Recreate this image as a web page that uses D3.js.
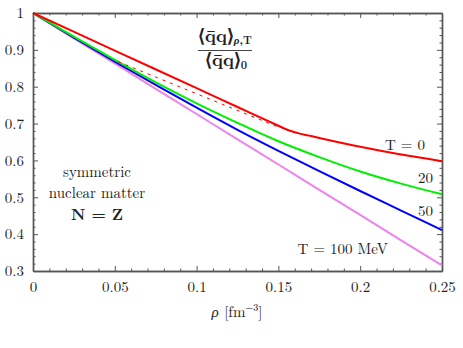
<!DOCTYPE html>
<html><head><meta charset="utf-8">
<script src="https://cdn.jsdelivr.net/npm/d3@7"></script>
<style>
html,body{margin:0;padding:0;background:#fff;}
svg{display:block;}
</style></head>
<body>
<svg id="chart" width="463" height="348"></svg>
<script>
// ---- data ----
const xTicks = [0, 0.05, 0.1, 0.15, 0.2, 0.25];
const xTickLabels = ["0", "0.05", "0.1", "0.15", "0.2", "0.25"];
const yTicks = [0.3, 0.4, 0.5, 0.6, 0.7, 0.8, 0.9, 1];
const yTickLabels = ["0.3", "0.4", "0.5", "0.6", "0.7", "0.8", "0.9", "1"];

const rho = [0, 0.025, 0.05, 0.075, 0.1, 0.125, 0.15, 0.175, 0.2, 0.225, 0.25];
const rhoT0 = [0, 0.05, 0.1, 0.125, 0.15, 0.155, 0.158, 0.162, 0.168, 0.175, 0.2, 0.225, 0.25];
const condT0 = [1, 0.898, 0.796, 0.745, 0.694, 0.684, 0.679, 0.674, 0.668, 0.661, 0.637, 0.616, 0.598];
const condT20 = [1, 0.936, 0.873, 0.812, 0.755, 0.702, 0.652, 0.609, 0.570, 0.537, 0.508];
const condT50 = [1, 0.933, 0.868, 0.805, 0.743, 0.683, 0.626, 0.571, 0.517, 0.464, 0.411];
const condT100 = [1, 0.931, 0.863, 0.794, 0.726, 0.657, 0.589, 0.520, 0.452, 0.383, 0.315];
const rhoDash = [0.052, 0.149];
const condDash = [0.868, 0.692];

// ---- drawing ----
const FONT = "'Latin Modern Roman', 'Liberation Serif', serif";
const svg = d3.select("#chart");
const x = d3.scaleLinear().domain([0, 0.25]).range([33, 442]);
const y = d3.scaleLinear().domain([0.3, 1]).range([271, 13]);
const axisColor = "#555";

const xMinor = d3.range(0, 0.2501, 0.01).filter(v => Math.abs(v / 0.05 - Math.round(v / 0.05)) > 1e-6);
const yMinor = d3.range(0.3, 1.0001, 0.02).filter(v => Math.abs(v / 0.1 - Math.round(v / 0.1)) > 1e-6);

function styleAxis(g) {
  g.style("font-family", FONT);
  g.selectAll("path.domain").attr("stroke", axisColor).attr("stroke-width", 1.4);
  g.selectAll(".tick line").attr("stroke", axisColor).attr("stroke-width", 1);
  g.selectAll(".tick text").attr("fill", "#222").style("font-family", FONT).style("font-size", "15px");
}

// bottom
svg.append("g").attr("transform", `translate(0,${y(0.3)})`)
  .call(d3.axisBottom(x).tickValues(xMinor).tickSizeInner(-2.5).tickSizeOuter(0).tickFormat(""))
  .call(styleAxis);
svg.append("g").attr("transform", `translate(0,${y(0.3)})`)
  .call(d3.axisBottom(x).tickValues(xTicks).tickSizeInner(-5).tickSizeOuter(0).tickPadding(10)
    .tickFormat((d, i) => xTickLabels[i]))
  .call(styleAxis);
// top
svg.append("g").attr("transform", `translate(0,${y(1)})`)
  .call(d3.axisTop(x).tickValues(xMinor).tickSizeInner(-2.5).tickSizeOuter(0).tickFormat(""))
  .call(styleAxis);
svg.append("g").attr("transform", `translate(0,${y(1)})`)
  .call(d3.axisTop(x).tickValues(xTicks).tickSizeInner(-5).tickSizeOuter(0).tickFormat(""))
  .call(styleAxis);
// left
svg.append("g").attr("transform", `translate(${x(0)},0)`)
  .call(d3.axisLeft(y).tickValues(yMinor).tickSizeInner(-2.5).tickSizeOuter(0).tickFormat(""))
  .call(styleAxis);
svg.append("g").attr("transform", `translate(${x(0)},0)`)
  .call(d3.axisLeft(y).tickValues(yTicks).tickSizeInner(-5).tickSizeOuter(0).tickPadding(9)
    .tickFormat((d, i) => yTickLabels[i]))
  .call(styleAxis);
// right
svg.append("g").attr("transform", `translate(${x(0.25)},0)`)
  .call(d3.axisRight(y).tickValues(yMinor).tickSizeInner(-2.5).tickSizeOuter(0).tickFormat(""))
  .call(styleAxis);
svg.append("g").attr("transform", `translate(${x(0.25)},0)`)
  .call(d3.axisRight(y).tickValues(yTicks).tickSizeInner(-5).tickSizeOuter(0).tickFormat(""))
  .call(styleAxis);

// curves
const line = d3.line().x(d => x(d[0])).y(d => y(d[1])).curve(d3.curveMonotoneX);
const series = [
  {r: rho, v: condT100, c: "#ee82ee"},
  {r: rho, v: condT50, c: "#0000ff"},
  {r: rho, v: condT20, c: "#00ee00"},
  {r: rhoT0, v: condT0, c: "#ff0000"}
];
series.forEach(s => {
  svg.append("path").datum(s.r.map((r, i) => [r, s.v[i]]))
    .attr("d", line).attr("fill", "none").attr("stroke", s.c).attr("stroke-width", 2);
});
svg.append("path").datum(rhoDash.map((r, i) => [r, condDash[i]]))
  .attr("d", d3.line().x(d => x(d[0])).y(d => y(d[1])))
  .attr("fill", "none").attr("stroke", "#ff0000").attr("stroke-width", 1)
  .attr("stroke-dasharray", "3,5");

// text
const txt = (tx, ty, s, anchor) => svg.append("text").attr("x", tx).attr("y", ty)
  .attr("text-anchor", anchor || "middle").style("font-family", FONT)
  .attr("fill", "#222").style("font-size", "15px").text(s);
txt(425, 150, "T = 0", "end");
txt(433, 183, "20", "end");
txt(433, 216, "50", "end");
txt(388, 254, "T = 100 MeV", "end");
txt(97, 177, "symmetric");
txt(97, 198, "nuclear matter");
txt(97, 220, "N = Z").style("font-weight", "bold").style("font-size", "16px");

// title fraction
const num = svg.append("text").attr("x", 198).attr("y", 42).attr("text-anchor", "start")
  .style("font-family", FONT).attr("fill", "#222").style("font-size", "18px").style("font-weight", "bold");
num.append("tspan").text("\u27E8q\u0304q\u27E9");
num.append("tspan").attr("dy", 2).style("font-size", "11px").style("font-style", "italic").text("\u03C1");
num.append("tspan").style("font-size", "11px").text(",T");
svg.append("line").attr("x1", 198).attr("x2", 252).attr("y1", 50.5).attr("y2", 50.5)
  .attr("stroke", "#444").attr("stroke-width", 1.2);
const den = svg.append("text").attr("x", 205).attr("y", 66).attr("text-anchor", "start")
  .style("font-family", FONT).attr("fill", "#222").style("font-size", "18px").style("font-weight", "bold");
den.append("tspan").text("\u27E8q\u0304q\u27E9");
den.append("tspan").attr("dy", 3).style("font-size", "11px").text("0");

// x axis title
const xt = svg.append("text").attr("x", 237).attr("y", 317).attr("text-anchor", "middle")
  .style("font-family", FONT).attr("fill", "#222").style("font-size", "15px");
xt.append("tspan").style("font-style", "italic").text("\u03C1 ");
xt.append("tspan").text("[fm");
xt.append("tspan").attr("dy", -6).style("font-size", "10px").text("\u22123");
xt.append("tspan").attr("dy", 6).text("]");
</script>
</body></html>
